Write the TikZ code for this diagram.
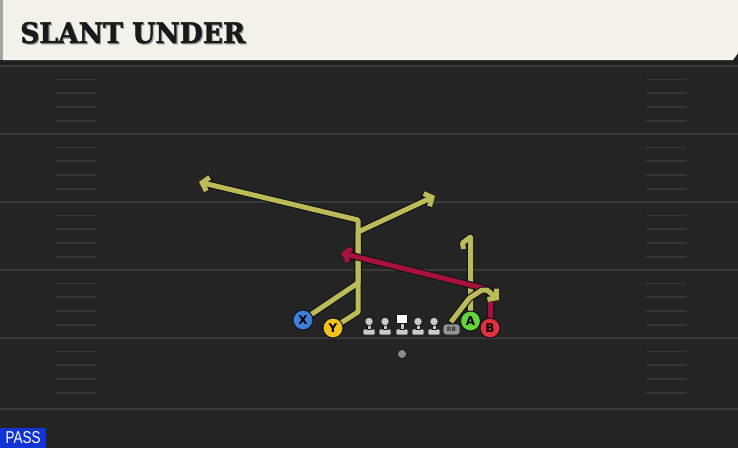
\documentclass[tikz,border=0pt]{standalone}
\usepackage{fontspec}
\usetikzlibrary{arrows.meta}
\newfontfamily\titlefont{DejaVu Serif}[BoldFeatures={FakeBold=1.6}]
\newfontfamily\labfont{DejaVu Sans}
\newfontfamily\passfont{Liberation Sans}
\definecolor{field}{HTML}{242424}
\definecolor{yardline}{HTML}{3A3A3A}
\definecolor{hashc}{HTML}{363636}
\definecolor{header}{HTML}{F4F1EA}
\definecolor{routey}{HTML}{BDBA58}
\definecolor{router}{HTML}{A8123A}
\definecolor{outl}{HTML}{101318}
\definecolor{pblue}{HTML}{3D7FD8}
\definecolor{pyellow}{HTML}{F2C31A}
\definecolor{pgreen}{HTML}{62D43C}
\definecolor{pred}{HTML}{E2303C}
\definecolor{lmgrey}{HTML}{C9C9C9}
\definecolor{passblue}{HTML}{1234D6}
\tikzset{
  outline/.style={draw=outl, line width=7.2pt, line join=round},
  yroute/.style={draw=routey, line width=5pt, line join=round},
  rroute/.style={draw=router, line width=5pt, line join=round},
  tipy/.style={-{Straight Barb[length=6pt,width=14pt]}},
  player/.style={circle, minimum size=20pt, inner sep=0pt, draw=outl, line width=1pt,
    font=\labfont\bfseries\fontsize{12}{12}\selectfont, text=black},
  lineman/.pic={
    \fill[lmgrey, draw=outl, line width=.6pt, rounded corners=1pt] (-6,7.5) rectangle (6,13.5);
    \fill[lmgrey, draw=outl, line width=.6pt] (-2,2) rectangle (2,7.5);
    \fill[lmgrey, draw=outl, line width=.6pt] (0,0) circle (4.2);
  },
  center/.pic={
    \fill[lmgrey, draw=outl, line width=.6pt, rounded corners=1pt] (-6,7.5) rectangle (6,13.5);
    \fill[lmgrey, draw=outl, line width=.6pt] (-2,1.5) rectangle (2,7.5);
    \fill[white, draw=outl, line width=.6pt] (-5.5,-7.5) rectangle (5.5,1.8);
  }
}
\begin{document}
\begin{tikzpicture}[x=1pt,y=-1pt]
\useasboundingbox (0,0) rectangle (738,448);
\fill[field] (0,0) rectangle (738,448);
% hash marks
\foreach \L in {65.5,133.5,201.5,269.5,337.5}{
  \foreach \o in {14,27.5,41.5,55.5}{
    \draw[hashc, line width=1.6pt] (56,\L+\o) -- (96,\L+\o);
    \draw[hashc, line width=1.6pt] (646,\L+\o) -- (686,\L+\o);
  }
}
% yard lines
\foreach \L in {65.5,133.5,201.5,269.5,337.5,408.5}{
  \draw[yardline, line width=2pt] (0,\L) -- (738,\L);
}
% header
\fill[black!88] (0,58) rectangle (738,64);
\fill[header] (3,0) -- (738,0) -- (738,53) -- (733,60) -- (3,60) -- cycle;
\fill[black!35] (0,0) rectangle (3,60);
\node[anchor=base west, inner sep=0pt, text=black!40] at (21.2,44.2)
  {\resizebox{225pt}{21pt}{\titlefont\bfseries SLANT UNDER}};
\node[anchor=base west, inner sep=0pt, text=black!90] (title) at (20,43)
  {\resizebox{225pt}{21pt}{\titlefont\bfseries SLANT UNDER}};
% player positions
\coordinate (pX) at (303,320);
\coordinate (pY) at (333,328);
\coordinate (pA) at (470.5,321);
\coordinate (pB) at (490,328);
\coordinate (pRB) at (451,322);
% route points
\coordinate (x1) at (358,283);
\coordinate (x2) at (358,220);
\coordinate (x3) at (199,182);
\coordinate (y1) at (358,312);
\coordinate (y2) at (358,232);
\coordinate (y3) at (435,196);
\coordinate (a1) at (470.5,237);
\coordinate (rb1) at (469.5,298);
\coordinate (rb2) at (482,290);
\coordinate (rb3) at (487,290);
\coordinate (rb4) at (499,300);
\coordinate (b1) at (491,290);
\coordinate (b2) at (341,253);
% yellow routes
\foreach \st in {outline,yroute}{
  \draw[\st, tipy] (pX) -- (x1) -- (x2) -- (x3);
  \draw[\st, tipy] (pY) -- (y1) -- (y2) -- (y3);
  \draw[\st] (pA) -- (a1) -- (462.5,243) -- (463.5,249);
}
% red route
\draw[outline, tipy] (pB) -- (b1) -- (b2);
\draw[rroute, tipy] (pB) -- (b1) -- (b2);
% RB route on top
\foreach \st in {outline,yroute}{
  \draw[\st, tipy] (pRB) -- (rb1) -- (rb2) -- (rb3) -- (rb4);
}
% line
\pic (LT) at (369,321.5) {lineman};
\pic (LG) at (385,321.5) {lineman};
\pic (C) at (402,321.5) {center};
\pic (RG) at (418,321.5) {lineman};
\pic (RT) at (434,321.5) {lineman};
\node[fill=black!42, draw=outl, line width=.6pt, rounded corners=3pt, minimum width=17pt,
  minimum height=11pt, inner sep=0pt, text=black!80,
  font=\labfont\bfseries\fontsize{6}{6}\selectfont] (RB) at (451.5,329.5) {RB};
% skill players
\node[player, fill=pblue] (X) at (pX) {X};
\node[player, fill=pyellow] (Y) at (pY) {Y};
\node[player, fill=pgreen] (A) at (pA) {A};
\node[player, fill=pred] (B) at (pB) {B};
% ball
\node[circle, fill=black!45, draw=outl, line width=.6pt, minimum size=9pt, inner sep=0pt] (ball) at (402,354) {};
% pass label
\node[fill=passblue, anchor=south west, minimum width=46pt, minimum height=20pt, inner sep=0pt,
  text=white] (pass) at (0,448) {\resizebox{35pt}{12pt}{\passfont PASS}};
\end{tikzpicture}
\end{document}
